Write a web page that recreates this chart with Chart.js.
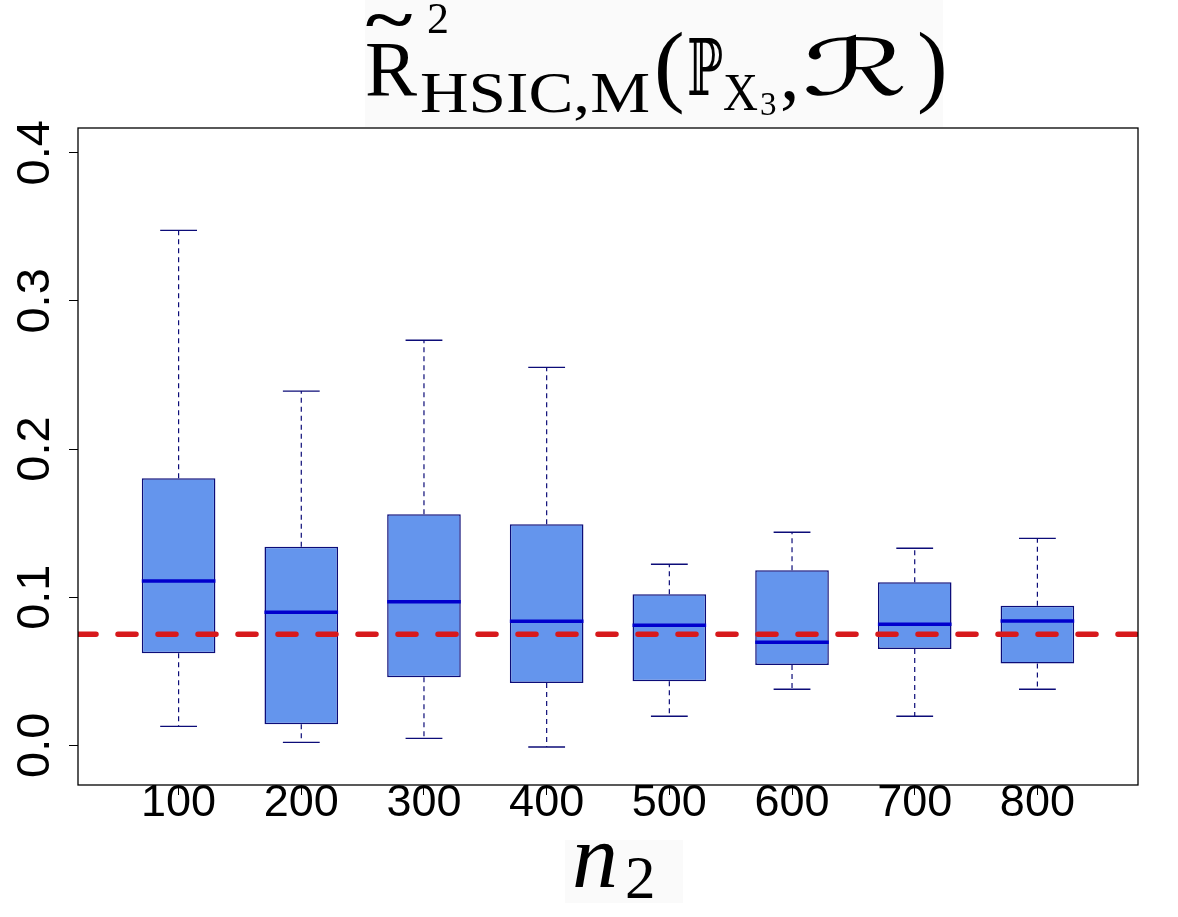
<!DOCTYPE html>
<html>
<head>
<meta charset="utf-8">
<script src="https://cdn.jsdelivr.net/npm/chart.js"></script>
<style>
  body { margin: 0; background: #fff; }
  #wrap { position: relative; width: 1178px; height: 917px; }
  #chart { position: absolute; left: 0; top: 0; }
  #overlay { position: absolute; left: 0; top: 0; pointer-events: none; }
  .rm { font-family: "Liberation Serif", "DejaVu Serif", serif; fill: #000; }
  .bb { font-family: "DejaVu Serif", "DejaVu Sans", "Noto Sans", serif; fill: #000; }
</style>
</head>
<body>
<div id="wrap">
  <canvas id="chart" width="1178" height="917"></canvas>
  <svg id="overlay" width="1178" height="917">
    <!-- title: R~^2_{HSIC,M}(P_{X3}, R) -->
    <rect x="365" y="0" width="578" height="127" fill="#fafafa"/>
    <text class="rm" x="365" y="95" font-size="78">R</text>
    <text class="rm" font-size="64" font-weight="bold" text-anchor="middle" transform="translate(389,41) scale(1.4,1)">~</text>
    <text class="rm" x="427" y="33" font-size="44">2</text>
    <text class="rm" x="420" y="112" font-size="58" textLength="230" lengthAdjust="spacingAndGlyphs">HSIC,M</text>
    <text class="rm" x="654" y="95" font-size="92">(</text>
    <text class="bb" x="687" y="95" font-size="78" textLength="36" lengthAdjust="spacingAndGlyphs">ℙ</text>
    <text class="rm" x="723" y="110" font-size="53" textLength="35" lengthAdjust="spacingAndGlyphs">X</text>
    <text class="rm" x="760" y="115" font-size="33">3</text>
    <text class="rm" x="780" y="99" font-size="78">,</text>
    <text class="bb" x="802" y="95" font-size="78" textLength="106" lengthAdjust="spacingAndGlyphs">ℛ</text>
    <text class="rm" x="917" y="95" font-size="92">)</text>
    <!-- x axis label: n_2 -->
    <rect x="565" y="840" width="118" height="63" fill="#fafafa"/>
    <text class="rm" x="572" y="887" font-size="92" font-style="italic">n</text>
    <text class="rm" x="625" y="898" font-size="61">2</text>
  </svg>
</div>
<script>
// sample sizes n2 (one box per value)
const categories = ['100', '200', '300', '400', '500', '600', '700', '800'];
const boxPos = [1, 2, 3, 4, 5, 6, 7, 8];

// box plot statistics
const whiskerLow = [0.0128, 0.0020, 0.0047, -0.0011, 0.0196, 0.0378, 0.0196, 0.0378];
const q1 = [0.0621, 0.0142, 0.0459, 0.0421, 0.0432, 0.0542, 0.0650, 0.0553];
const median = [0.1109, 0.0898, 0.0969, 0.0837, 0.0810, 0.0695, 0.0817, 0.0839];
const q3 = [0.1802, 0.1341, 0.1559, 0.1492, 0.1019, 0.1181, 0.1100, 0.0942];
const whiskerHigh = [0.3476, 0.2391, 0.2734, 0.2551, 0.1222, 0.1438, 0.1330, 0.1397];

// true value (red dashed line)
const refValue = 0.0749;

const yTicks = [0, 0.1, 0.2, 0.3, 0.4];
const yTickLabels = ['0.0', '0.1', '0.2', '0.3', '0.4'];

const xMin = 0.18, xMax = 8.82;
const capHalf = 0.15;

// vertical whisker segments, separated by null points
function whiskerPoints(from, to) {
  let pts = [];
  boxPos.forEach((x, i) => {
    pts.push({ x: x, y: from[i] }, { x: x, y: to[i] }, { x: x, y: null });
  });
  return pts;
}

// horizontal segments centred on each box (caps, medians)
function hSegments(vals, half) {
  let pts = [];
  boxPos.forEach((x, i) => {
    pts.push({ x: x - half, y: vals[i] }, { x: x + half, y: vals[i] }, { x: x, y: null });
  });
  return pts;
}

const navy = '#0c0c78';

const lineBase = { type: 'line', pointRadius: 0, spanGaps: false, fill: false, tension: 0 };

// black frame round the plot region
const framePlugin = {
  id: 'frame',
  afterDraw(chart) {
    const { ctx, chartArea: a } = chart;
    ctx.save();
    ctx.strokeStyle = '#000';
    ctx.lineWidth = 1.3;
    ctx.strokeRect(a.left, a.top, a.right - a.left, a.bottom - a.top);
    ctx.restore();
  }
};

let ctx = document.getElementById('chart').getContext('2d');
let chart = new Chart(ctx, {
  type: 'bar',
  data: {
    datasets: [
      {
        ...lineBase,
        data: [{ x: xMin, y: refValue }, { x: xMax, y: refValue }],
        borderColor: '#d7191c',
        borderWidth: 5.5,
        borderDash: [18, 22],
        borderCapStyle: 'round',
        order: 0
      },
      {
        ...lineBase,
        data: hSegments(median, 0.3),
        borderColor: '#0000cd',
        borderWidth: 3.5,
        order: 1
      },
      {
        type: 'bar',
        data: boxPos.map((x, i) => ({ x: x, y: [q1[i], q3[i]] })),
        backgroundColor: '#6495ed',
        borderColor: navy,
        borderWidth: 1.5,
        borderSkipped: false,
        barPercentage: 0.6,
        categoryPercentage: 1,
        order: 2
      },
      {
        ...lineBase,
        data: whiskerPoints(q3, whiskerHigh).concat(whiskerPoints(q1, whiskerLow)),
        borderColor: navy,
        borderWidth: 1.2,
        borderDash: [5, 4],
        order: 3
      },
      {
        ...lineBase,
        data: hSegments(whiskerHigh, capHalf).concat(hSegments(whiskerLow, capHalf)),
        borderColor: navy,
        borderWidth: 1.4,
        order: 3
      }
    ]
  },
  options: {
    responsive: false,
    devicePixelRatio: 1,
    animation: false,
    events: [],
    layout: { padding: { left: 0, top: 128, right: 40, bottom: 0 } },
    plugins: { legend: { display: false }, tooltip: { enabled: false }, title: { display: false } },
    scales: {
      x: {
        type: 'linear',
        min: xMin,
        max: xMax,
        offset: false,
        afterBuildTicks: s => { s.ticks = boxPos.map(v => ({ value: v })); },
        afterFit: s => { s.height = 132; },
        border: { display: false },
        grid: { drawOnChartArea: false, drawTicks: true, tickLength: 10, color: '#000', offset: false },
        ticks: {
          autoSkip: false,
          maxRotation: 0,
          padding: -18,
          color: '#000',
          font: { family: 'Liberation Sans, Arial, sans-serif', size: 45 },
          callback: (v, i) => categories[i]
        }
      },
      y: {
        min: -0.0268,
        max: 0.4167,
        afterBuildTicks: s => { s.ticks = yTicks.map(v => ({ value: v })); },
        afterFit: s => { s.width = 78; },
        border: { display: false },
        grid: { drawOnChartArea: false, drawTicks: true, tickLength: 9, color: '#000' },
        ticks: {
          autoSkip: false,
          minRotation: 90,
          maxRotation: 90,
          crossAlign: 'center',
          padding: 0,
          color: '#000',
          font: { family: 'Liberation Sans, Arial, sans-serif', size: 47 },
          callback: (v, i) => yTickLabels[i]
        }
      }
    }
  },
  plugins: [framePlugin]
});
</script>
</body>
</html>
